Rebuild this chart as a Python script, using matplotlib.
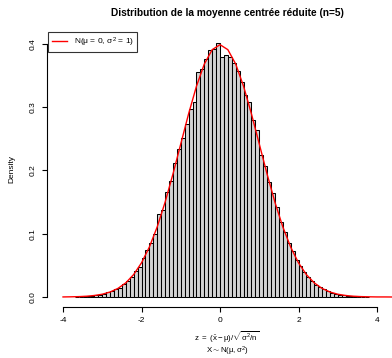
import numpy as np
import matplotlib
matplotlib.use("Agg")
import matplotlib.pyplot as plt

plt.rcParams["font.family"] = ["Liberation Sans", "DejaVu Sans"]
plt.rcParams["mathtext.fontset"] = "custom"
plt.rcParams["mathtext.rm"] = "Liberation Sans"
plt.rcParams["mathtext.it"] = "Liberation Sans"
plt.rcParams["mathtext.bf"] = "Liberation Sans:bold"

# histogram of standardised means (density scale), bins of width 0.1
BIN_START = -3.7
BIN_WIDTH = 0.1
density = [
    0.0005, 0.0007, 0.0010, 0.0015, 0.0021, 0.0030, 0.0036, 0.0052, 0.0078, 0.0090,
    0.0125, 0.0150, 0.0205, 0.0255, 0.0310, 0.0405, 0.0480, 0.0610, 0.0740, 0.0850,
    0.0990, 0.1310, 0.1380, 0.1660, 0.1840, 0.2120, 0.2340, 0.2510, 0.2740, 0.2970,
    0.3080, 0.3560, 0.3610, 0.3760, 0.3910, 0.3920, 0.4020,
    0.3800, 0.3830, 0.3800, 0.3700, 0.3570, 0.3400, 0.3200, 0.3090, 0.2800, 0.2640,
    0.2250, 0.2070, 0.1820, 0.1650, 0.1430, 0.1190, 0.1030, 0.0860, 0.0730, 0.0590,
    0.0490, 0.0400, 0.0320, 0.0250, 0.0195, 0.0155, 0.0120, 0.0092, 0.0068, 0.0050,
    0.0038, 0.0028, 0.0020, 0.0014, 0.0010, 0.0007, 0.0005, 0.0003,
]

# N(0,1) curve
curve_x = [-4.0, -3.8, -3.6, -3.4, -3.2, -3.0, -2.8, -2.6, -2.4, -2.2, -2.0,
           -1.8, -1.6, -1.4, -1.2, -1.0, -0.8, -0.6, -0.4, -0.2, 0.0,
           0.2, 0.4, 0.6, 0.8, 1.0, 1.2, 1.4, 1.6, 1.8, 2.0,
           2.2, 2.4, 2.6, 2.8, 3.0, 3.2, 3.4, 3.6, 3.8, 4.0, 4.2, 4.4]
curve_y = [0.0001, 0.0003, 0.0006, 0.0012, 0.0024, 0.0044, 0.0079, 0.0136, 0.0224, 0.0355, 0.0540,
           0.0790, 0.1109, 0.1497, 0.1942, 0.2420, 0.2897, 0.3332, 0.3683, 0.3910, 0.3989,
           0.3910, 0.3683, 0.3332, 0.2897, 0.2420, 0.1942, 0.1497, 0.1109, 0.0790, 0.0540,
           0.0355, 0.0224, 0.0136, 0.0079, 0.0044, 0.0024, 0.0012, 0.0006, 0.0003, 0.0001, 0.0001, 0.0000]

x_ticks = [-4, -2, 0, 2, 4]
y_ticks = [0.0, 0.1, 0.2, 0.3, 0.4]

W, H = 392, 358
fig = plt.figure(figsize=(W / 100, H / 100), dpi=100)
ax = fig.add_axes([47 / W, (H - 307) / H, (392 - 47) / W, (307 - 30.7) / H])

edges = BIN_START + BIN_WIDTH * np.arange(len(density))
ax.bar(edges, density, width=BIN_WIDTH, align="edge", color="#d3d3d3",
       edgecolor="black", linewidth=0.75)
ax.plot(curve_x, curve_y, color="red", linewidth=1.0, label=r"N($\mu$ = 0, $\sigma^2$ = 1)")

ax.set_xlim(-4.408, 4.382)
ax.set_ylim(-0.0158, 0.421)

for s in ["top", "right"]:
    ax.spines[s].set_visible(False)
ax.spines["left"].set_bounds(0, 0.4)
ax.spines["bottom"].set_bounds(-4, 4)
ax.spines["left"].set_linewidth(0.8)
ax.spines["bottom"].set_linewidth(0.8)

ax.set_xticks(x_ticks)
ax.set_xticklabels([str(t) for t in x_ticks])
ax.set_yticks(y_ticks)
ax.set_yticklabels([f"{t:.1f}" for t in y_ticks], rotation=90, va="center")
ax.tick_params(labelsize=6, length=3.5, width=0.8, pad=4)

leg = ax.legend(loc="upper left", bbox_to_anchor=(0.0, 1.0), fontsize=6,
                frameon=True, fancybox=False, edgecolor="black", handlelength=1.9,
                borderaxespad=0.15, handletextpad=0.8)
leg.get_frame().set_linewidth(0.8)

fig.text(227 / W, 1 - 13 / H, "Distribution de la moyenne centrée réduite (n=5)",
         ha="center", va="center", fontsize=7.3, fontweight="bold")
fig.text(12 / W, 1 - 169 / H, "Density", rotation=90, ha="center", va="center", fontsize=6)
fig.text(227 / W, 1 - 337.5 / H, r"$z\ =\ (\bar{x} - \mu)/\sqrt{\sigma^2/n}$",
         ha="center", va="center", fontsize=5.7)
fig.text(227 / W, 1 - 351 / H, r"$X \sim N(\mu, \sigma^2)$",
         ha="center", va="center", fontsize=5.7)

fig.savefig("out.png", dpi=100)
